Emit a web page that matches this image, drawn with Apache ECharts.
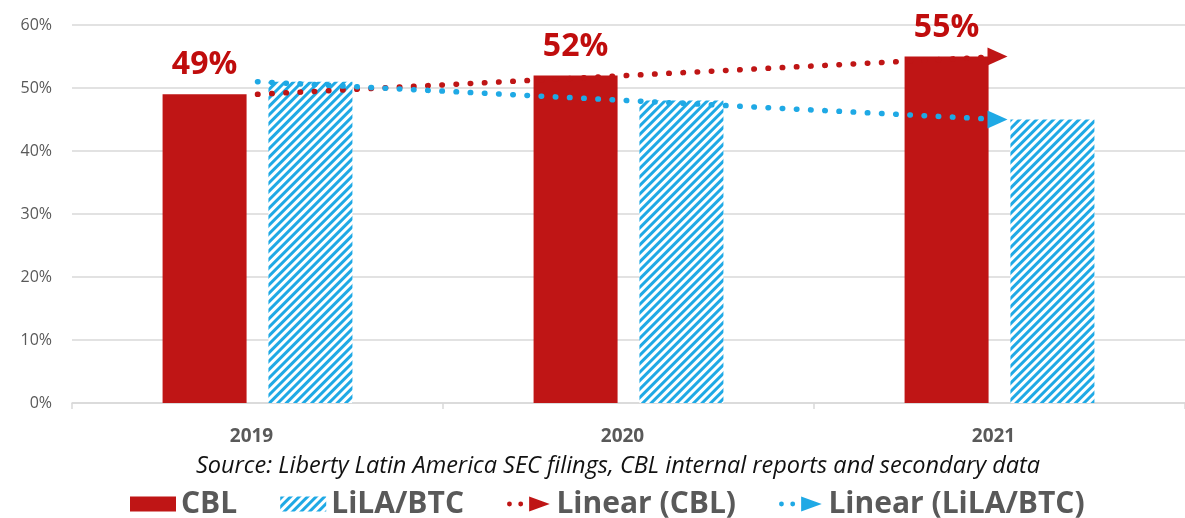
<!DOCTYPE html>
<html>
<head>
<meta charset="utf-8">
<script src="https://cdn.jsdelivr.net/npm/echarts@6/dist/echarts.min.js"></script>
<style>
  html, body { margin: 0; padding: 0; background: #fff; }
  #chart { width: 1185px; height: 518px; }
</style>
</head>
<body>
<div id="chart"></div>
<script>
// ---- data ----
const categories = ['2019', '2020', '2021'];
const cblValues = [49, 52, 55];
const lilaValues = [51, 48, 45];
const cblTrend = [49, 52, 55];
const lilaTrend = [51, 48, 45];
const yTicks = [0, 10, 20, 30, 40, 50, 60];
const sourceText = 'Source: Liberty Latin America SEC filings, CBL internal reports and secondary data';
const seriesNames = ['CBL', 'LiLA/BTC', 'Linear (CBL)', 'Linear (LiLA/BTC)'];

// ---- styles ----
const RED = '#bf1515';
const BLUE = '#1fa9e5';
const GRAY = '#595959';
const GRID = '#d9d9d9';
const FONT = 'Open Sans';

const arrowIcon = 'path://M0.4,8a2.6,2.6 0 1,0 5.2,0a2.6,2.6 0 1,0 -5.2,0Z M12.4,8a2.6,2.6 0 1,0 5.2,0a2.6,2.6 0 1,0 -5.2,0Z M24,0L46,8L24,16Z';

function trendData(vals) {
  return vals.map((v, i) => i === vals.length - 1
    ? { value: v, symbol: 'triangle', symbolSize: [18, 20], symbolRotate: -90, symbolOffset: [-2, 0] }
    : { value: v, symbol: 'none' });
}

const chart = echarts.init(document.getElementById('chart'), null, { renderer: 'canvas' });
chart.setOption({
  animation: false,
  textStyle: { fontFamily: FONT },
  title: {
    text: sourceText,
    left: 613,
    textAlign: 'center',
    top: 450,
    textStyle: { fontFamily: FONT, fontStyle: 'italic', fontWeight: 'normal', fontSize: 23.5, color: '#111' }
  },
  grid: { left: 72, top: 25, width: 1120, bottom: 115, containLabel: false },
  legend: {
    data: [
      { name: seriesNames[0], icon: 'rect' },
      { name: seriesNames[1], icon: 'rect' },
      { name: seriesNames[2], icon: arrowIcon },
      { name: seriesNames[3], icon: arrowIcon }
    ],
    left: 125,
    top: 484,
    itemWidth: 46,
    itemHeight: 15,
    itemGap: 43,
    textStyle: { fontFamily: FONT, fontWeight: 'bold', fontSize: 30, color: GRAY },
    selectedMode: false
  },
  xAxis: {
    type: 'category',
    data: categories,
    axisLine: { lineStyle: { color: GRID, width: 1.5 } },
    axisTick: { show: true, length: 6, lineStyle: { color: GRID, width: 1.5 } },
    axisLabel: { margin: 24, fontFamily: FONT, fontWeight: 'bold', fontSize: 19, color: GRAY, padding: [0, 12, 0, 0] }
  },
  yAxis: {
    type: 'value',
    min: yTicks[0],
    max: yTicks[yTicks.length - 1],
    interval: 10,
    axisLine: { show: false },
    axisTick: { show: false },
    splitLine: { lineStyle: { color: GRID, width: 1.5 } },
    axisLabel: { margin: 20, fontFamily: FONT, fontSize: 16, color: GRAY, formatter: '{value}%' }
  },
  series: [
    {
      name: seriesNames[0],
      type: 'bar',
      data: cblValues,
      barWidth: 84,
      barGap: '26%',
      itemStyle: { color: RED },
      label: {
        show: true, position: 'top', distance: 13,
        formatter: '{c}%', fontFamily: FONT, fontWeight: 'bold', fontSize: 32, color: '#c00d0d'
      },
      z: 2
    },
    {
      name: seriesNames[1],
      type: 'bar',
      data: lilaValues,
      barWidth: 84,
      itemStyle: {
        color: '#ffffff',
        decal: { symbol: 'rect', symbolSize: 1, dashArrayX: [1, 0], dashArrayY: [2.5, 2.6], rotation: -Math.PI / 4, color: BLUE }
      },
      z: 2
    },
    {
      name: seriesNames[2],
      type: 'line',
      data: trendData(cblTrend),
      lineStyle: { color: RED, width: 5.5, type: [0.5, 13.7], cap: 'round' },
      itemStyle: { color: RED, borderWidth: 0 },
      z: 5
    },
    {
      name: seriesNames[3],
      type: 'line',
      data: trendData(lilaTrend),
      lineStyle: { color: BLUE, width: 5.5, type: [0.5, 13.7], cap: 'round' },
      itemStyle: { color: BLUE, borderWidth: 0 },
      z: 5
    }
  ]
});
</script>
</body>
</html>
